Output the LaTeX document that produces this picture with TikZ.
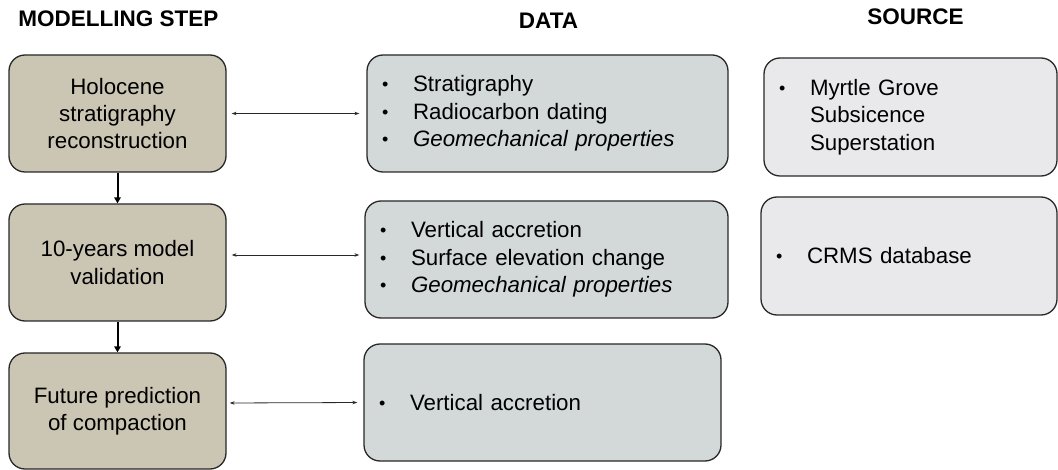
\documentclass[tikz,border=0pt]{standalone}
\usepackage{fontspec}
\setmainfont{Liberation Sans}
\usetikzlibrary{arrows.meta}
\definecolor{stepfill}{RGB}{203,197,179}
\definecolor{datafill}{RGB}{211,217,216}
\definecolor{srcfill}{RGB}{233,233,235}
\definecolor{edgecol}{RGB}{40,40,40}
\newcommand\bodyfont{\fontsize{22.3}{27.4}\selectfont}
\newcommand\headfont{\fontsize{22.5}{25}\selectfont\bfseries}
\newcommand\itm{\makebox[31pt][l]{\raisebox{1pt}{\fontsize{18}{18}\selectfont\textbullet}}}
\newcommand\hang{\hspace*{31pt}}
\begin{document}
\begin{tikzpicture}[x=1pt,y=-1pt,
  box/.style={draw=edgecol, line width=1.3pt, rounded corners=16pt, inner ysep=0pt, font=\bodyfont},
  stepbox/.style={box, fill=stepfill, minimum width=217pt, minimum height=117pt, align=center, inner xsep=0pt},
  databox/.style={box, fill=datafill, inner xsep=15pt, align=left, minimum height=117pt},
  srcbox/.style={box, fill=srcfill, inner xsep=15pt, align=left, minimum height=118pt},
  head/.style={font=\headfont, anchor=base, inner sep=0pt},
  harrow/.style={line width=0.8pt, draw=edgecol, {Stealth[length=5pt,width=3.5pt]}-{Stealth[length=5pt,width=3.5pt]}},
  varrow/.style={line width=2pt, draw=black, -{Triangle[length=6pt,width=6.5pt]}}]
\useasboundingbox (0,0) rectangle (1058,470);
% headings
\node[head] (h1) at (118.5,27) {MODELLING STEP};
\node[head] (h2) at (548.5,28.5) {DATA};
\node[head] (h3) at (915.5,25) {SOURCE};
% modelling steps
\node[stepbox] (L1) at (117.5,113.5) {Holocene\\stratigraphy\\reconstruction};
\node[stepbox] (L2) at (117.5,262.5) {10-years model\\validation};
\node[stepbox, minimum height=116pt] (L3) at (117.5,411) {Future prediction\\of compaction};
% data
\node[databox, text width=331pt] (D1) at (547.5,113.5) {\itm Stratigraphy\\\itm Radiocarbon dating\\\itm \textit{Geomechanical properties}};
\node[databox, text width=333pt] (D2) at (546.5,259.5) {\itm Vertical accretion\\\itm Surface elevation change\\\itm \textit{Geomechanical properties}};
\node[databox, text width=327pt] (D3) at (542.5,402.5) {\itm Vertical accretion};
% sources
\node[srcbox, text width=263pt] (S1) at (910.5,117) {\itm Myrtle Grove\\\hang Subsicence\\\hang Superstation};
\node[srcbox, text width=266pt] (S2) at (909,256) {\itm CRMS database};
% connectors
\draw[varrow] (L1) -- (L2);
\draw[varrow] (L2) -- (L3);
\draw[harrow, shorten <=5pt, shorten >=7pt] (L1.east) -- (D1.west);
\draw[harrow, shorten <=5pt, shorten >=5pt] ([yshift=7.5pt]L2.east) -- ([yshift=4.5pt]D2.west);
\draw[harrow, shorten <=3pt, shorten >=6pt] ([yshift=8pt]L3.east) -- (D3.west);
\end{tikzpicture}
\end{document}
